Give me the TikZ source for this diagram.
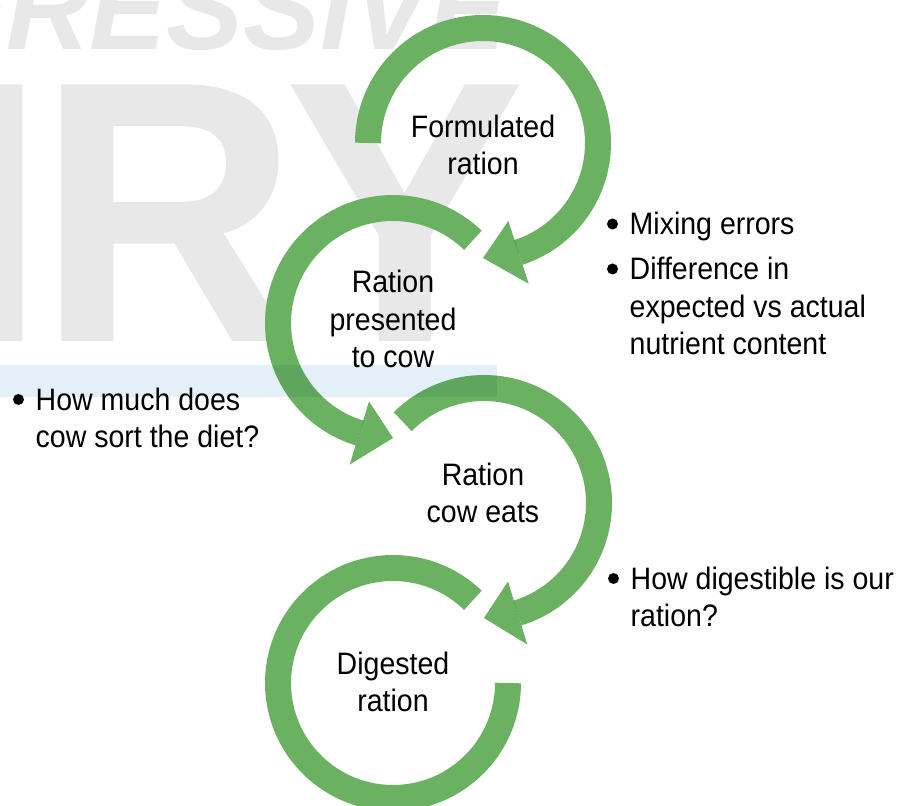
\documentclass[tikz,border=0pt]{standalone}
\usepackage{fontspec}
\setmainfont{Liberation Sans}[FakeStretch=0.92]
\newfontfamily\markfont{Liberation Sans}[FakeStretch=0.97]
\usetikzlibrary{calc}

\definecolor{ringgreen}{RGB}{106,177,98}
\definecolor{markgray}{RGB}{232,232,232}
\definecolor{bandblue}{RGB}{227,240,247}

\begin{document}
\begin{tikzpicture}[x=1pt, y=1pt,
        ring/.style={draw=ringgreen, line width=26pt},
        tiphead/.style={fill=ringgreen},
        stage/.style={align=center, anchor=base, inner sep=0pt, font=\fontsize{31}{37.5}\selectfont},
        note/.style={align=left, anchor=base west, inner sep=0pt, font=\fontsize{31}{37.5}\selectfont},
        dot/.style={circle, fill=black, inner sep=0pt, minimum size=11pt},
        wmark/.style={text=markgray, inner sep=0pt, anchor=base west}
    ]

    \useasboundingbox (0,0) rectangle (909,805);
    \clip (0,0) rectangle (909,805);

    % ================= Watermark =================
    \node[wmark, font=\markfont\bfseries\itshape\fontsize{119}{119}\selectfont] (wm_top) at (-84,755) {GRESSIVE};
    \node[wmark, font=\markfont\bfseries\fontsize{373}{373}\selectfont] (wm_big) at (-54,463) {I\kern-10pt RY};

    % ring centres
    \coordinate (form_c) at (483,662);
    \coordinate (pres_c) at (393,482);
    \coordinate (eats_c) at (484,302);
    \coordinate (dige_c) at (393,122);

    % ================= Rings =================
    \begin{scope}[blend group=multiply]
        % Formulated ration (clockwise)
        \draw[ring] ([shift={(form_c)}]180:115) arc[start angle=180, end angle=-72, radius=115];
        \fill[tiphead] ([shift={(form_c)}]-72:82) -- ([shift={(form_c)}]-72:148) -- ([shift={(form_c)}]-90:115) -- cycle;

        % Ration presented to cow (counter-clockwise)
        \draw[ring] ([shift={(pres_c)}]46:115) arc[start angle=46, end angle=253, radius=115];
        \fill[tiphead] ([shift={(pres_c)}]253:82) -- ([shift={(pres_c)}]253:148) -- ([shift={(pres_c)}]270:115) -- cycle;

        % Ration cow eats (clockwise)
        \draw[ring] ([shift={(eats_c)}]135:115) arc[start angle=135, end angle=-73, radius=115];
        \fill[tiphead] ([shift={(eats_c)}]-73:82) -- ([shift={(eats_c)}]-73:148) -- ([shift={(eats_c)}]-90:115) -- cycle;

        % Digested ration (open ring)
        \draw[ring] ([shift={(dige_c)}]46:115) arc[start angle=46, end angle=360, radius=115];
    \end{scope}

    % light band
    \fill[bandblue, blend mode=multiply] (0,408) rectangle (497,440);

    % ================= Stage labels (placed at last baseline) =================
    \node[stage] (form) at (483,630) {Formulated\\ration};
    \node[stage] (pres) at (393,437) {Ration\\presented\\to cow};
    \node[stage] (eats) at (483,282) {Ration\\cow eats};
    \node[stage] (dige) at (393,93) {Digested\\ration};

    % ================= Notes =================
    \node[note] (mix) at (629.5,570) {Mixing errors};
    \node[dot] (mix_dot) at ([xshift=-17pt, yshift=11pt]mix.base west) {};

    \node[note] (diff) at (629.5,450) {Difference in\\expected vs actual\\nutrient content};
    \node[dot] (diff_dot) at ([xshift=-17pt, yshift=86pt]diff.base west) {};

    \node[note] (sort) at (35.5,357) {How much does\\cow sort the diet?};
    \node[dot] (sort_dot) at ([xshift=-17pt, yshift=48.5pt]sort.base west) {};

    \node[note] (digest) at (630.5,178) {How digestible is our\\ration?};
    \node[dot] (digest_dot) at ([xshift=-17pt, yshift=48.5pt]digest.base west) {};

\end{tikzpicture}
\end{document}
